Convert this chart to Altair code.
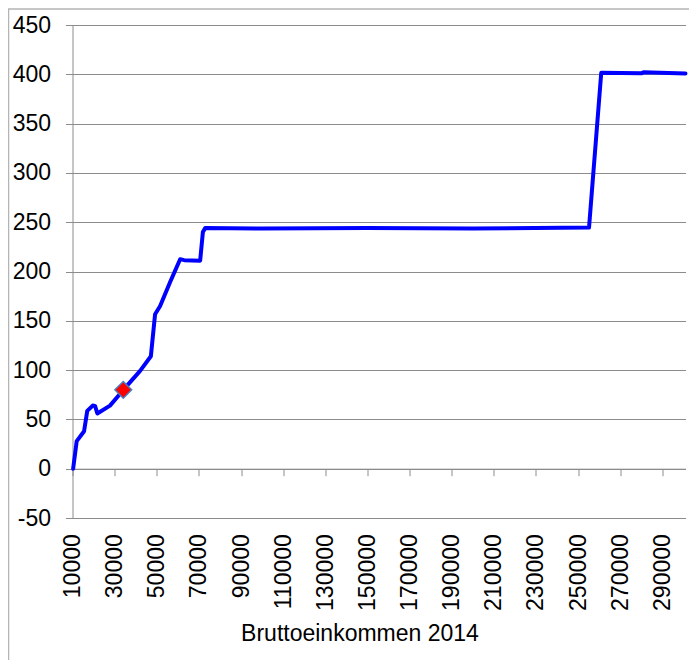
import altair as alt
import pandas as pd

# Line series (Bruttoeinkommen 2014 -> value)
income = [10300, 12000, 15500, 17000, 19600, 20700, 21800, 27800, 31800, 34100,
          42000, 47200, 49200, 51600, 56300, 61100, 63000, 70600, 71900, 73000,
          100000, 150000, 200000, 255200, 261000, 280000, 281000, 301000]
value = [0, 28, 38, 58.6, 64, 63.7, 56, 64, 74, 80,
         99, 114, 156.7, 165, 189, 212.5, 211.5, 211, 240, 244,
         243.5, 244, 243.5, 244.5, 401.5, 401, 402, 400.8]

# Highlighted point
marker_income = [34100]
marker_value = [80]

x_ticks = list(range(10000, 300000, 20000))
y_ticks = list(range(-50, 451, 50))

W, H = 613, 493
FONT = "Liberation Sans"
FS = 23
GRID = "#8c8c8c"

line_df = pd.DataFrame({"income": income, "value": value})
mark_df = pd.DataFrame({"income": marker_income, "value": marker_value})

xscale = alt.Scale(domain=[10000, 301000], nice=False, zero=False)
yscale = alt.Scale(domain=[-50, 450], nice=False, zero=False)

xaxis = alt.Axis(
    values=x_ticks, title="Bruttoeinkommen 2014", labelAngle=-90,
    offset=-H * 0.1, grid=False, tickSize=7, domainColor=GRID, tickColor=GRID,
    labelPadding=58, titlePadding=12, labelFont=FONT, titleFont=FONT,
    labelFontSize=FS, titleFontSize=FS, titleFontWeight="normal",
    labelColor="black", titleColor="black", labelFlush=False,
    labelOverlap=False, labelExpr="datum.value + ''",
    titleX=287, titleAlign="center",
)
yaxis = alt.Axis(
    values=y_ticks, title=None, grid=True, gridColor=GRID, tickSize=7,
    domainColor=GRID, tickColor=GRID, labelPadding=15, labelFont=FONT,
    labelFontSize=FS, labelColor="black", labelExpr="datum.value + ''",
)

frame = alt.Chart(pd.DataFrame({"a": [0]})).mark_rect(
    filled=False, stroke="#b4b4b4", strokeWidth=1.5
).encode(
    x=alt.value(-64), x2=alt.value(W + 40), y=alt.value(-16), y2=alt.value(H + 300)
)

line = alt.Chart(line_df).mark_line(
    color="#0000ff", strokeWidth=4, strokeJoin="round", strokeCap="round"
).encode(
    x=alt.X("income:Q", scale=xscale, axis=xaxis),
    y=alt.Y("value:Q", scale=yscale, axis=yaxis),
)

point = alt.Chart(mark_df).mark_point(
    shape="diamond", filled=True, fill="#ff0000", stroke="#4a7ebb",
    strokeWidth=1.5, size=280, opacity=1
).encode(
    x=alt.X("income:Q", scale=xscale),
    y=alt.Y("value:Q", scale=yscale),
)

chart = alt.layer(frame, line, point).properties(
    width=W, height=H,
    autosize=alt.AutoSizeParams(type="none"),
    padding={"left": 64.5, "top": 17, "right": 3, "bottom": 142},
).configure_view(stroke=None)

chart.save("out.html", embed_options={"renderer": "svg", "actions": False})
